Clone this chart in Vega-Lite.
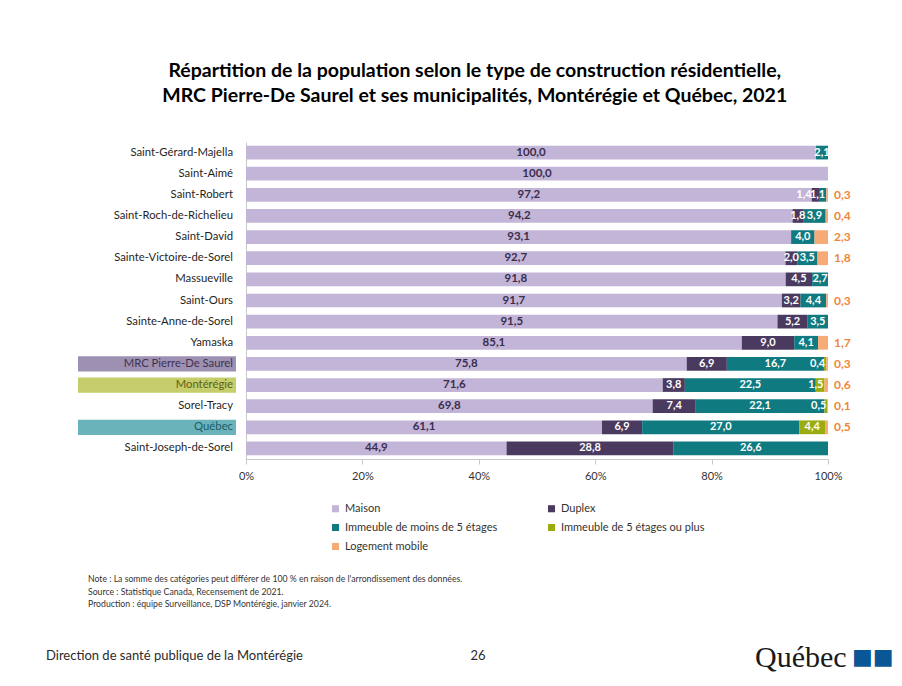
{
  "$schema": "https://vega.github.io/schema/vega-lite/v6.json",
  "padding": {"left": 46, "top": 60, "right": 10, "bottom": 0},
  "background": "white",
  "config": {
    "view": {"stroke": null},
    "font": "Lato",
    "locale": {"number": {"decimal": ",", "thousands": " ", "grouping": [3], "currency": ["", " $"]}}
  },
  "title": {
    "text": ["Répartition de la population selon le type de construction résidentielle,", "MRC Pierre-De Saurel et ses municipalités, Montérégie et Québec, 2021"],
    "fontSize": 19.5,
    "fontWeight": "bold",
    "color": "#000000",
    "lineHeight": 25,
    "anchor": "middle",
    "offset": 36,
    "dx": 5,
    "font": "Lato"
  },
  "datasets": {
    "territoires": [
      {"territoire": "Saint-Gérard-Majella", "niveau": "Municipalité"},
      {"territoire": "Saint-Aimé", "niveau": "Municipalité"},
      {"territoire": "Saint-Robert", "niveau": "Municipalité"},
      {"territoire": "Saint-Roch-de-Richelieu", "niveau": "Municipalité"},
      {"territoire": "Saint-David", "niveau": "Municipalité"},
      {"territoire": "Sainte-Victoire-de-Sorel", "niveau": "Municipalité"},
      {"territoire": "Massueville", "niveau": "Municipalité"},
      {"territoire": "Saint-Ours", "niveau": "Municipalité"},
      {"territoire": "Sainte-Anne-de-Sorel", "niveau": "Municipalité"},
      {"territoire": "Yamaska", "niveau": "Municipalité"},
      {"territoire": "MRC Pierre-De Saurel", "niveau": "MRC"},
      {"territoire": "Montérégie", "niveau": "Région"},
      {"territoire": "Sorel-Tracy", "niveau": "Municipalité"},
      {"territoire": "Québec", "niveau": "Province"},
      {"territoire": "Saint-Joseph-de-Sorel", "niveau": "Municipalité"}
    ],
    "parts": [
      {"territoire": "Saint-Gérard-Majella", "type": "Maison", "valeur": 100.0},
      {"territoire": "Saint-Gérard-Majella", "type": "Immeuble de moins de 5 étages", "valeur": 2.1},
      {"territoire": "Saint-Aimé", "type": "Maison", "valeur": 100.0},
      {"territoire": "Saint-Robert", "type": "Maison", "valeur": 97.2},
      {"territoire": "Saint-Robert", "type": "Duplex", "valeur": 1.4},
      {"territoire": "Saint-Robert", "type": "Immeuble de moins de 5 étages", "valeur": 1.1},
      {"territoire": "Saint-Robert", "type": "Logement mobile", "valeur": 0.3},
      {"territoire": "Saint-Roch-de-Richelieu", "type": "Maison", "valeur": 94.2},
      {"territoire": "Saint-Roch-de-Richelieu", "type": "Duplex", "valeur": 1.8},
      {"territoire": "Saint-Roch-de-Richelieu", "type": "Immeuble de moins de 5 étages", "valeur": 3.9},
      {"territoire": "Saint-Roch-de-Richelieu", "type": "Logement mobile", "valeur": 0.4},
      {"territoire": "Saint-David", "type": "Maison", "valeur": 93.1},
      {"territoire": "Saint-David", "type": "Immeuble de moins de 5 étages", "valeur": 4.0},
      {"territoire": "Saint-David", "type": "Logement mobile", "valeur": 2.3},
      {"territoire": "Sainte-Victoire-de-Sorel", "type": "Maison", "valeur": 92.7},
      {"territoire": "Sainte-Victoire-de-Sorel", "type": "Duplex", "valeur": 2.0},
      {"territoire": "Sainte-Victoire-de-Sorel", "type": "Immeuble de moins de 5 étages", "valeur": 3.5},
      {"territoire": "Sainte-Victoire-de-Sorel", "type": "Logement mobile", "valeur": 1.8},
      {"territoire": "Massueville", "type": "Maison", "valeur": 91.8},
      {"territoire": "Massueville", "type": "Duplex", "valeur": 4.5},
      {"territoire": "Massueville", "type": "Immeuble de moins de 5 étages", "valeur": 2.7},
      {"territoire": "Saint-Ours", "type": "Maison", "valeur": 91.7},
      {"territoire": "Saint-Ours", "type": "Duplex", "valeur": 3.2},
      {"territoire": "Saint-Ours", "type": "Immeuble de moins de 5 étages", "valeur": 4.4},
      {"territoire": "Saint-Ours", "type": "Logement mobile", "valeur": 0.3},
      {"territoire": "Sainte-Anne-de-Sorel", "type": "Maison", "valeur": 91.5},
      {"territoire": "Sainte-Anne-de-Sorel", "type": "Duplex", "valeur": 5.2},
      {"territoire": "Sainte-Anne-de-Sorel", "type": "Immeuble de moins de 5 étages", "valeur": 3.5},
      {"territoire": "Yamaska", "type": "Maison", "valeur": 85.1},
      {"territoire": "Yamaska", "type": "Duplex", "valeur": 9.0},
      {"territoire": "Yamaska", "type": "Immeuble de moins de 5 étages", "valeur": 4.1},
      {"territoire": "Yamaska", "type": "Logement mobile", "valeur": 1.7},
      {"territoire": "MRC Pierre-De Saurel", "type": "Maison", "valeur": 75.8},
      {"territoire": "MRC Pierre-De Saurel", "type": "Duplex", "valeur": 6.9},
      {"territoire": "MRC Pierre-De Saurel", "type": "Immeuble de moins de 5 étages", "valeur": 16.7},
      {"territoire": "MRC Pierre-De Saurel", "type": "Immeuble de 5 étages ou plus", "valeur": 0.4},
      {"territoire": "MRC Pierre-De Saurel", "type": "Logement mobile", "valeur": 0.3},
      {"territoire": "Montérégie", "type": "Maison", "valeur": 71.6},
      {"territoire": "Montérégie", "type": "Duplex", "valeur": 3.8},
      {"territoire": "Montérégie", "type": "Immeuble de moins de 5 étages", "valeur": 22.5},
      {"territoire": "Montérégie", "type": "Immeuble de 5 étages ou plus", "valeur": 1.5},
      {"territoire": "Montérégie", "type": "Logement mobile", "valeur": 0.6},
      {"territoire": "Sorel-Tracy", "type": "Maison", "valeur": 69.8},
      {"territoire": "Sorel-Tracy", "type": "Duplex", "valeur": 7.4},
      {"territoire": "Sorel-Tracy", "type": "Immeuble de moins de 5 étages", "valeur": 22.1},
      {"territoire": "Sorel-Tracy", "type": "Immeuble de 5 étages ou plus", "valeur": 0.5},
      {"territoire": "Sorel-Tracy", "type": "Logement mobile", "valeur": 0.1},
      {"territoire": "Québec", "type": "Maison", "valeur": 61.1},
      {"territoire": "Québec", "type": "Duplex", "valeur": 6.9},
      {"territoire": "Québec", "type": "Immeuble de moins de 5 étages", "valeur": 27.0},
      {"territoire": "Québec", "type": "Immeuble de 5 étages ou plus", "valeur": 4.4},
      {"territoire": "Québec", "type": "Logement mobile", "valeur": 0.5},
      {"territoire": "Saint-Joseph-de-Sorel", "type": "Maison", "valeur": 44.9},
      {"territoire": "Saint-Joseph-de-Sorel", "type": "Duplex", "valeur": 28.8},
      {"territoire": "Saint-Joseph-de-Sorel", "type": "Immeuble de moins de 5 étages", "valeur": 26.6}
    ]
  },
  "spacing": 10,
  "vconcat": [
    {
      "spacing": 2,
      "resolve": {"scale": {"x": "independent", "y": "independent", "color": "independent"}, "legend": {"color": "independent"}},
      "hconcat": [
        {
          "width": 190,
          "height": 317,
          "data": {"name": "territoires"},
          "encoding": {
            "y": {
              "field": "territoire", "type": "nominal",
              "sort": ["Saint-Gérard-Majella", "Saint-Aimé", "Saint-Robert", "Saint-Roch-de-Richelieu", "Saint-David", "Sainte-Victoire-de-Sorel", "Massueville", "Saint-Ours", "Sainte-Anne-de-Sorel", "Yamaska", "MRC Pierre-De Saurel", "Montérégie", "Sorel-Tracy", "Québec", "Saint-Joseph-de-Sorel"],
              "scale": {"paddingInner": 0.28, "paddingOuter": 0.14},
              "axis": null
            }
          },
          "layer": [
            {
              "transform": [{"filter": "datum.niveau !== 'Municipalité'"}],
              "mark": {"type": "bar"},
              "encoding": {
                "x": {"datum": 32, "type": "quantitative", "scale": {"domain": [0, 190], "nice": false, "zero": false}, "axis": null},
                "x2": {"datum": 190},
                "color": {"field": "niveau", "type": "nominal", "scale": {"domain": ["MRC", "Région", "Province"], "range": ["#9d90b2", "#c6cd6b", "#6bb3bb"]}, "legend": null}
              }
            },
            {
              "mark": {"type": "text", "align": "right", "baseline": "middle", "fontSize": 11.3, "dx": -3},
              "encoding": {
                "x": {"datum": 190, "type": "quantitative"},
                "text": {"field": "territoire"},
                "color": {
                  "condition": [
                    {"test": "datum.niveau === 'MRC'", "value": "#3d3350"},
                    {"test": "datum.niveau === 'Région'", "value": "#5c6218"},
                    {"test": "datum.niveau === 'Province'", "value": "#1b5d66"}
                  ],
                  "value": "#1f1f1f"
                }
              }
            }
          ]
        },
        {
          "width": 582,
          "height": 317,
          "data": {"name": "parts"},
          "transform": [
            {"calculate": "indexof(['Maison','Duplex','Immeuble de moins de 5 étages','Immeuble de 5 étages ou plus','Logement mobile'], datum.type)", "as": "ordre"},
            {"stack": "valeur", "groupby": ["territoire"], "sort": [{"field": "ordre", "order": "ascending"}], "offset": "normalize", "as": ["x0", "x1"]},
            {"calculate": "(datum.x0 + datum.x1) / 2", "as": "xm"}
          ],
          "encoding": {
            "y": {
              "field": "territoire", "type": "nominal",
              "sort": ["Saint-Gérard-Majella", "Saint-Aimé", "Saint-Robert", "Saint-Roch-de-Richelieu", "Saint-David", "Sainte-Victoire-de-Sorel", "Massueville", "Saint-Ours", "Sainte-Anne-de-Sorel", "Yamaska", "MRC Pierre-De Saurel", "Montérégie", "Sorel-Tracy", "Québec", "Saint-Joseph-de-Sorel"],
              "scale": {"paddingInner": 0.35, "paddingOuter": 0.175},
              "axis": {"labels": false, "ticks": false, "title": null, "domainColor": "#c8c8c8"}
            }
          },
          "layer": [
            {
              "mark": {"type": "bar"},
              "encoding": {
                "x": {
                  "field": "x0", "type": "quantitative",
                  "scale": {"domain": [0, 1]},
                  "axis": {"format": ".0%", "title": null, "grid": false, "labelFlush": false, "values": [0, 0.2, 0.4, 0.6, 0.8, 1], "domainColor": "#c8c8c8", "tickColor": "#c8c8c8", "tickSize": 5, "labelFontSize": 11, "labelColor": "#333333", "labelPadding": 6}
                },
                "x2": {"field": "x1"},
                "color": {
                  "field": "type", "type": "nominal",
                  "scale": {
                    "domain": ["Maison", "Duplex", "Immeuble de moins de 5 étages", "Immeuble de 5 étages ou plus", "Logement mobile"],
                    "range": ["#c3b5d7", "#4a3a5f", "#0f7b81", "#9bac10", "#f6aa76"]
                  },
                  "legend": {"title": null, "orient": "none", "direction": "horizontal", "legendX": 84, "legendY": 361, "columns": 2, "columnPadding": 48, "rowPadding": 7, "symbolType": "square", "symbolSize": 50, "symbolStrokeWidth": 0, "labelFontSize": 11, "labelColor": "#333333", "labelLimit": 300}
                }
              }
            },
            {
              "transform": [{"filter": "datum.type === 'Maison'"}],
              "mark": {"type": "text", "align": "center", "baseline": "middle", "fontSize": 11.5, "fontWeight": "bold", "color": "#3a2d4d"},
              "encoding": {"x": {"field": "xm", "type": "quantitative"}, "text": {"field": "valeur", "type": "quantitative", "format": ".1f"}}
            },
            {
              "transform": [{"filter": "datum.type !== 'Maison' && datum.type !== 'Logement mobile' && datum.valeur >= 1.6"}],
              "mark": {"type": "text", "align": "center", "baseline": "middle", "fontSize": 11, "fontWeight": "bold", "color": "#ffffff"},
              "encoding": {"x": {"field": "xm", "type": "quantitative"}, "text": {"field": "valeur", "type": "quantitative", "format": ".1f"}}
            },
            {
              "transform": [{"filter": "(datum.type === 'Immeuble de moins de 5 étages' || datum.type === 'Immeuble de 5 étages ou plus') && datum.valeur < 1.6"}],
              "mark": {"type": "text", "align": "right", "baseline": "middle", "fontSize": 11, "fontWeight": "bold", "color": "#ffffff", "dx": -1},
              "encoding": {"x": {"field": "x1", "type": "quantitative"}, "text": {"field": "valeur", "type": "quantitative", "format": ".1f"}}
            },
            {
              "transform": [{"filter": "datum.type === 'Duplex' && datum.valeur < 1.6"}],
              "mark": {"type": "text", "align": "right", "baseline": "middle", "fontSize": 11, "fontWeight": "bold", "color": "#ffffff", "dx": 0},
              "encoding": {"x": {"field": "x0", "type": "quantitative"}, "text": {"field": "valeur", "type": "quantitative", "format": ".1f"}}
            },
            {
              "transform": [{"filter": "datum.type === 'Logement mobile'"}],
              "mark": {"type": "text", "align": "left", "baseline": "middle", "fontSize": 12, "fontWeight": "bold", "color": "#ee873a", "dx": 6},
              "encoding": {"x": {"field": "x1", "type": "quantitative"}, "text": {"field": "valeur", "type": "quantitative", "format": ".1f"}}
            }
          ]
        }
      ]
    },
    {
      "width": 839,
      "height": 110,
      "layer": [
        {
          "data": {"values": [
            {"ligne": 1, "texte": "Note : La somme des catégories peut différer de 100 % en raison de l'arrondissement des données."},
            {"ligne": 2, "texte": "Source : Statistique Canada, Recensement de 2021."},
            {"ligne": 3, "texte": "Production : équipe Surveillance, DSP Montérégie, janvier 2024."}
          ]},
          "mark": {"type": "text", "align": "left", "baseline": "middle", "fontSize": 8.7, "color": "#333333", "x": 42},
          "encoding": {
            "y": {"field": "ligne", "type": "quantitative", "scale": {"domain": [1, 3], "range": [17, 42]}, "axis": null},
            "text": {"field": "texte"}
          }
        },
        {
          "data": {"values": [{"texte": "Direction de santé publique de la Montérégie"}]},
          "mark": {"type": "text", "align": "left", "baseline": "middle", "fontSize": 13, "color": "#2b2b2b", "x": 0, "y": 94},
          "encoding": {"text": {"field": "texte"}}
        },
        {
          "data": {"values": [{"texte": "26"}]},
          "mark": {"type": "text", "align": "center", "baseline": "middle", "fontSize": 13, "color": "#2b2b2b", "x": 432, "y": 94},
          "encoding": {"text": {"field": "texte"}}
        },
        {
          "data": {"values": [{"texte": "Québec"}]},
          "mark": {"type": "text", "align": "left", "baseline": "middle", "fontSize": 30, "font": "Liberation Serif", "color": "#1a1a1a", "x": 709, "y": 96},
          "encoding": {"text": {"field": "texte"}}
        },
        {
          "data": {"values": [{"texte": "■■"}]},
          "mark": {"type": "text", "align": "left", "baseline": "middle", "fontSize": 22, "font": "DejaVu Sans", "color": "#095797", "x": 806, "y": 95},
          "encoding": {"text": {"field": "texte"}}
        }
      ]
    }
  ]
}
